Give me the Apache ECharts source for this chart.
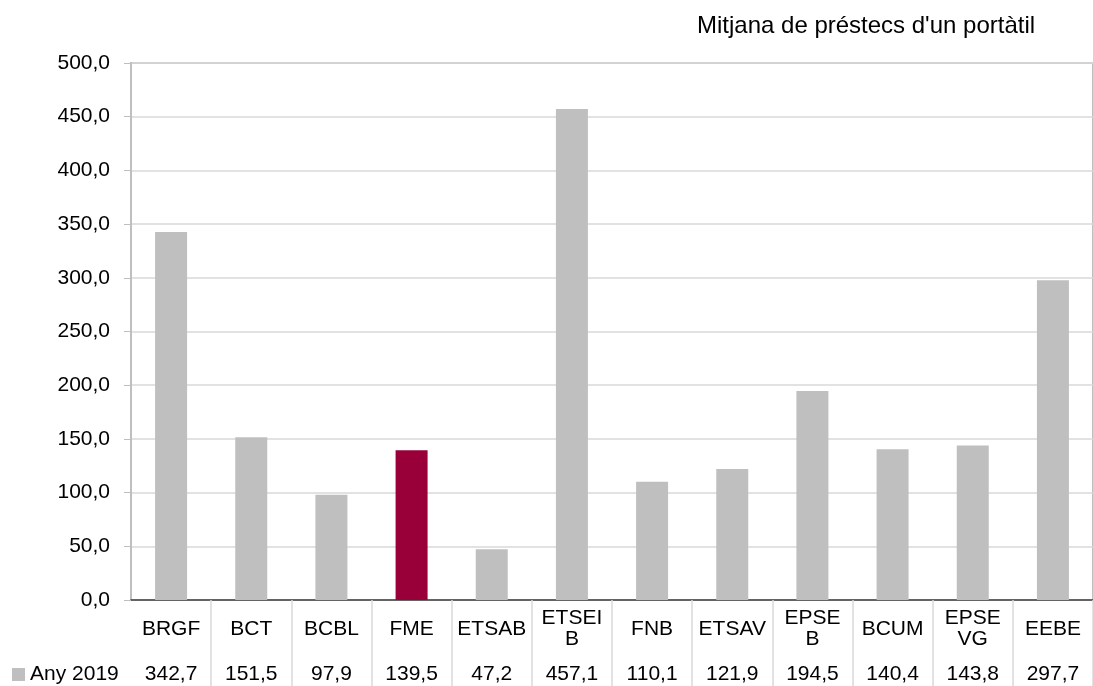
<!DOCTYPE html>
<html>
<head>
<meta charset="utf-8">
<script src="https://cdn.jsdelivr.net/npm/echarts@6/dist/echarts.min.js"></script>
<style>
  html, body { margin: 0; padding: 0; background: #fff; }
  #chart { width: 1093px; height: 686px; }
</style>
</head>
<body>
<div id="chart"></div>
<script>
// categories (line breaks as in the table cells)
var categories = ['BRGF', 'BCT', 'BCBL', 'FME', 'ETSAB', 'ETSEI\nB', 'FNB', 'ETSAV', 'EPSE\nB', 'BCUM', 'EPSE\nVG', 'EEBE'];
// series values
var values2019 = [342.7, 151.5, 97.9, 139.5, 47.2, 457.1, 110.1, 121.9, 194.5, 140.4, 143.8, 297.7];
var highlighted = 'FME';
var seriesName = 'Any 2019';

var fmt = v => v.toFixed(1).replace('.', ',');
var font = 'Liberation Sans, Arial, sans-serif';

var chart = echarts.init(document.getElementById('chart'));

var option = {
	animation: false,
	textStyle: { fontFamily: font },

	title: {
		text: "Mitjana de préstecs d'un portàtil",
		left: 697,
		top: 14,
		padding: 0,
		textStyle: { fontFamily: font, fontSize: 24, fontWeight: 'normal', color: '#000' }
	},

	legend: {
		data: [seriesName],
		left: 12,
		top: 664,
		padding: 0,
		icon: 'rect',
		itemWidth: 13,
		itemHeight: 13,
		textStyle: { fontFamily: font, fontSize: 21, color: '#000' }
	},

	grid: {
		left: 131,
		top: 63,
		width: 977,
		height: 537,
		show: true,
		borderColor: '#bfbfbf',
		borderWidth: 2
	},

	xAxis: [{
		type: 'category',
		data: categories,
		axisLine: { lineStyle: { color: '#404040', width: 1.5 } },
		// table cell separators, none at the left edge
		axisTick: {
			show: true,
			interval: (i) => i > 0,
			length: 86,
			lineStyle: { color: '#d9d9d9', width: 1.5 }
		},
		axisLabel: {
			interval: 0,
			margin: 29,
			verticalAlign: 'middle',
			lineHeight: 21,
			fontSize: 21,
			color: '#000'
		}
	}, {
		type: 'category',
		position: 'bottom',
		data: values2019.map(fmt),
		axisLine: { show: false },
		axisTick: { show: false },
		axisLabel: {
			interval: 0,
			margin: 74,
			verticalAlign: 'middle',
			fontSize: 21,
			color: '#000'
		}
	}],

	yAxis: {
		type: 'value',
		min: 0,
		max: 500,
		interval: 50,
		axisLine: { show: true, lineStyle: { color: '#bfbfbf', width: 2 } },
		axisTick: { show: true, length: 7, lineStyle: { color: '#bfbfbf' } },
		axisLabel: {
			margin: 21,
			fontSize: 21,
			color: '#000',
			formatter: fmt
		},
		splitLine: { lineStyle: { color: '#d9d9d9', width: 1.5 } }
	},

	series: [{
		name: seriesName,
		type: 'bar',
		barWidth: 32,
		itemStyle: { color: '#bfbfbf' },
		data: values2019.map((v, i) => categories[i] === highlighted
			? { value: v, itemStyle: { color: '#99003a' } }
			: v)
	}]
};

chart.setOption(option);
</script>
</body>
</html>
